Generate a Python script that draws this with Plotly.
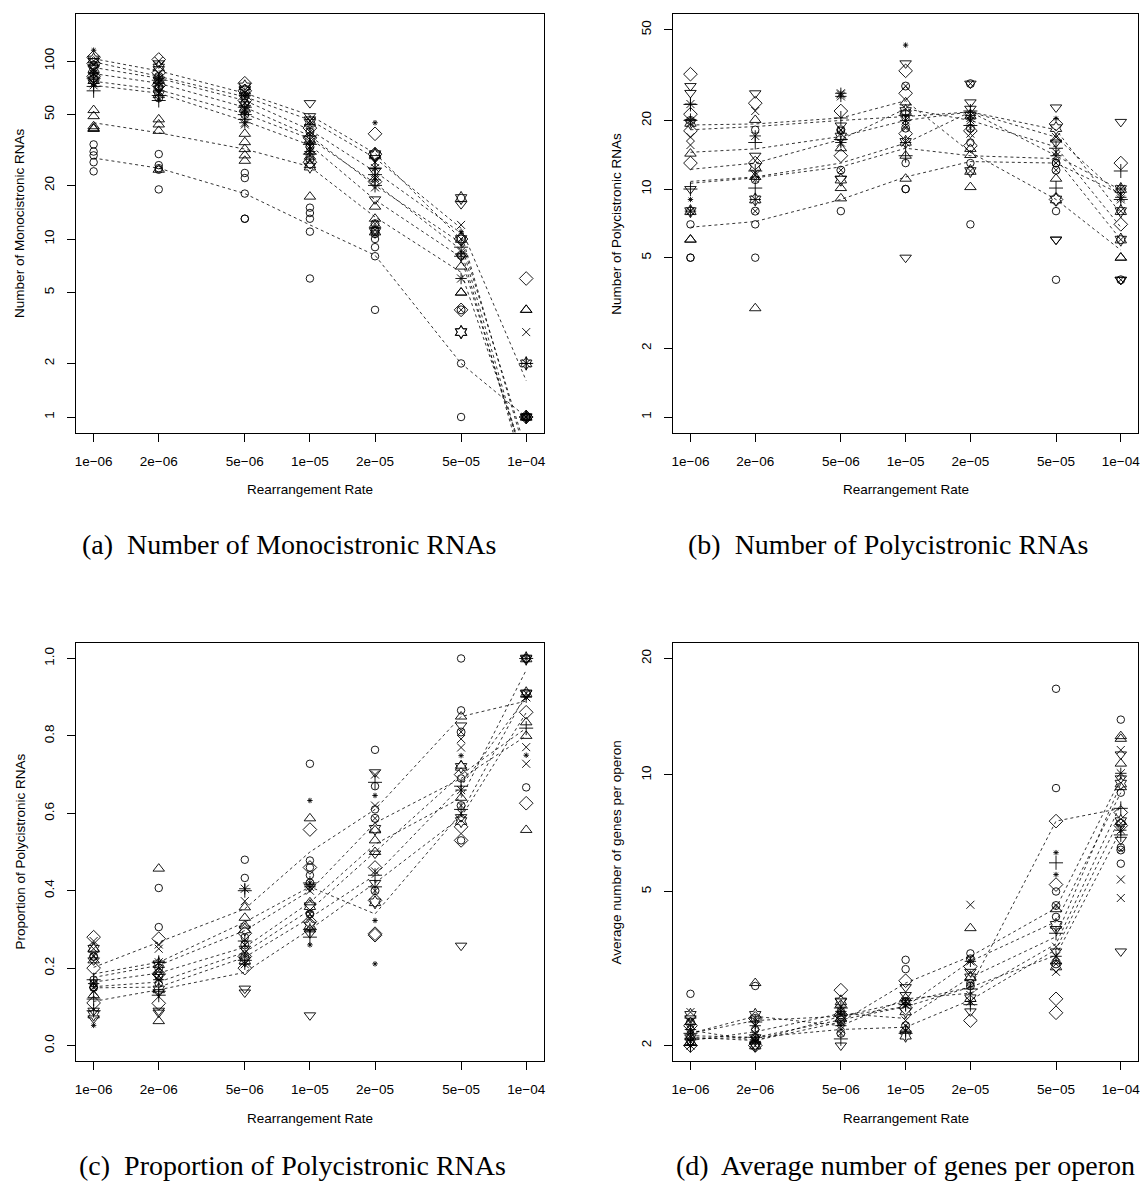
import plotly.graph_objects as go

# ---------------- data ----------------
RATES = [1e-6, 2e-6, 5e-6, 1e-5, 2e-5, 5e-5, 1e-4]
RATE_LABELS = ["1e\u221206", "2e\u221206", "5e\u221206", "1e\u221205", "2e\u221205", "5e\u221205", "1e\u221204"]

# (a) Number of monocistronic RNAs: per group, one list of replicate values per rate
mono_circle = [[34, 31, 29.5, 27, 24], [30, 26, 25, 24.5, 19], [23.5, 22, 18, 13, 13], [15, 14, 13, 11, 6], [11, 10, 9, 8, 4], [17, 2, 1], [1, 1]]
mono_triangle = [[53, 49, 43, 42, 41.5], [47, 44, 40.5, 24.5], [39, 35, 32, 29.5, 27.5], [17.3, 31, 29, 26], [15.2, 13, 12], [7, 5, 5], [4, 4, 1]]
mono_cross = [[68, 72, 80], [60, 64, 78], [50, 47, 55], [34, 30, 38], [20, 23, 25], [9, 8], [1, 2]]
mono_x = [[73, 88, 100], [100, 75, 66], [44, 52, 62], [46, 36, 32], [27, 22, 19.5], [12, 8.5], [3, 1]]
mono_diamond = [[97, 82, 105], [102, 73, 86], [75, 60, 68], [42, 27, 37], [39, 30, 21], [4, 10], [6, 1]]
mono_tridown = [[100, 92, 76], [90, 97, 70], [70, 62, 57], [58, 49, 47], [16.7, 28.5, 24], [15.7, 8], [1]]
mono_asterisk = [[75, 85], [68, 80, 76], [45, 53, 66], [35, 44, 31], [25, 21.5], [6], [2, 1]]
mono_small = [[115], [], [], [], [45], [11], []]
mono_circlex = [[85, 95, 80], [72, 62, 82], [58, 64, 50], [33, 28, 40], [12.2, 11.2, 10.7], [10, 8.1, 4], [1]]
mono_hexagram = [[102, 90, 78], [65, 78, 92], [68, 72, 54], [25.5, 36, 45], [30, 29.5, 11], [17, 3, 3, 10], [2, 1]]
mono_means = [
    [28.5, 25, 18, 12, 8.1, 2.0, 1.0],
    [45, 39.5, 32, 25.5, 13.3, 6.5, 0.55],
    [73, 66, 46, 33.7, 16.6, 7.9, 0.5],
    [77, 69, 50.5, 36.6, 20.6, 8.7, 0.45],
    [85, 75, 55, 38, 20, 9.5, 0.5],
    [92, 80, 60, 41, 23.9, 10.8, 0.6],
    [99, 82, 63, 46.6, 28.5, 11.5, 1.6],
    [103, 88, 66, 49.6, 30.3, 10.0, 0.65],
]

# (b) Number of polycistronic RNAs
poly_circle = [[7, 5, 5], [7, 5, 18.2], [8, 18], [13, 10, 10, 20.5], [13, 7, 16], [8, 4, 13], [10, 8]]
poly_triangle = [[14.3, 6, 6], [3, 20.1, 11.3], [15.1, 10.1, 9.1], [24, 11.1, 14], [14.1, 10.2, 15], [11.1, 16.5], [5, 5]]
poly_cross = [[23.5, 10, 20], [16, 10.1, 12], [16.5, 20.5], [14, 21], [22, 19], [15.1, 10.1], [12, 9]]
poly_x = [[16.9, 15.6, 19.5], [11.5, 22], [17.5, 26], [22.5, 19], [20, 17.5], [16.9, 14.5], [9, 8]]
poly_diamond = [[31.9, 21.3, 13, 18], [23.8, 13], [14, 22], [33, 26.3, 17.5], [18, 15.5], [9, 19.3], [13, 7]]
poly_tridown = [[28.3, 26.4, 10], [26.3, 14], [11.1, 19], [35.6, 5, 21.5], [29, 24, 22.5], [22.8, 6, 6, 16], [19.7, 4, 4]]
poly_asterisk = [[8, 23.6], [17.1, 9], [26.3, 25.5, 16], [16, 20], [21, 20.5], [14], [9.2, 10]]
poly_small = [[9], [], [], [42.8], [], [20.4], []]
poly_circlex = [[8, 20], [8, 11], [12.1, 18.2], [28.3, 18.5], [12, 18.5, 29], [12.1, 13], [6, 4]]
poly_hexagram = [[19.5, 8], [9, 12.5], [17, 11], [16.1, 22], [12, 21], [9, 18.5], [10, 8, 6]]
poly_means = [
    [19.1, 19.3, 20.5, 24.4, 14.5, 9.0, 5.4],
    [18.2, 18.8, 20, 20.8, 21.8, 18.2, 7.8],
    [14.5, 15, 17, 20, 21.8, 16.9, 9.3],
    [12.2, 13, 16.5, 22.5, 20, 15.3, 6.8],
    [10.8, 11.3, 13, 15.9, 21.8, 14, 9.9],
    [10.6, 11.2, 12.5, 15.1, 14, 13.6, 6.0],
    [6.8, 7.2, 9, 11.3, 13.2, 13.0, 9.5],
]

# (c) Proportion of polycistronic RNAs
prop_circle = [[0.17, 0.16, 0.23, 0.15], [0.407, 0.306, 0.16], [0.48, 0.433, 0.28], [0.728, 0.478, 0.46, 0.44], [0.764, 0.67, 0.61], [1.0, 0.866, 0.53, 0.69], [0.667, 1.0]]
prop_triangle = [[0.13, 0.25, 0.22], [0.457, 0.063, 0.19], [0.357, 0.33, 0.31], [0.587, 0.37, 0.3], [0.556, 0.53, 0.5], [0.85, 0.723, 0.64], [0.835, 0.557, 0.8]]
prop_cross = [[0.12, 0.17, 0.09], [0.14, 0.13, 0.215], [0.4, 0.27, 0.22], [0.3, 0.28, 0.42], [0.68, 0.44, 0.41], [0.67, 0.61], [0.82, 1.0]]
prop_x = [[0.14, 0.27, 0.25], [0.261, 0.25, 0.18], [0.373, 0.24, 0.26], [0.4, 0.35, 0.33], [0.7, 0.62, 0.45], [0.792, 0.77, 0.6], [0.771, 0.728, 0.9]]
prop_diamond = [[0.28, 0.2, 0.11], [0.276, 0.109, 0.185], [0.2, 0.23, 0.29], [0.558, 0.46, 0.32], [0.375, 0.289, 0.285, 0.46], [0.53, 0.565, 0.7], [0.861, 0.626]]
prop_tridown = [[0.09, 0.07, 0.22], [0.138, 0.09, 0.085], [0.147, 0.137, 0.25], [0.078, 0.41, 0.29], [0.706, 0.496, 0.42], [0.827, 0.258, 0.59], [0.91, 1.0]]
prop_asterisk = [[0.16], [0.17, 0.215], [0.405, 0.21], [0.41], [], [0.66], [0.9]]
prop_small = [[0.052], [], [], [0.633, 0.26], [0.646, 0.323, 0.211], [0.749], [0.75]]
prop_circlex = [[0.23, 0.15], [0.18, 0.2], [0.26, 0.23], [0.42, 0.34], [0.587, 0.4], [0.81, 0.62], [0.91, 1.0]]
prop_hexagram = [[0.25, 0.08], [0.21, 0.145], [0.3, 0.22], [0.36, 0.31], [0.56, 0.37], [0.72, 0.58], [1.0, 0.91]]
prop_means = [
    [0.202, 0.267, 0.353, 0.5, 0.61, 0.85, 0.89],
    [0.185, 0.215, 0.319, 0.41, 0.34, 0.6, 0.91],
    [0.176, 0.207, 0.297, 0.4, 0.575, 0.69, 0.8],
    [0.164, 0.187, 0.254, 0.37, 0.52, 0.64, 0.97],
    [0.152, 0.164, 0.241, 0.35, 0.5, 0.7, 0.82],
    [0.149, 0.151, 0.228, 0.33, 0.44, 0.67, 0.9],
    [0.114, 0.144, 0.189, 0.3, 0.42, 0.59, 0.86],
]

# (d) Average number of genes per operon
genes_circle = [[2.72, 2.2, 2.05], [2.85, 2.2, 2.0], [2.45, 2.3], [3.33, 3.15, 2.6], [3.46, 2.9], [16.7, 9.25, 5.0, 4.3], [13.9, 9.0, 5.9, 6.5]]
genes_triangle = [[2.1, 2.3], [2.9, 2.05], [2.55, 2.35], [2.65, 2.2], [4.02, 3.0], [4.5, 3.3], [12.6, 12.4, 10.7, 9.3]]
genes_cross = [[2.0, 2.15], [2.1, 2.3], [2.08, 2.5], [2.55, 2.15], [2.8, 2.55], [5.93, 3.9], [8.2, 7.0]]
genes_x = [[2.44, 2.05], [2.0, 2.15], [2.3, 2.2], [2.32, 2.6], [4.62, 2.7], [3.1, 3.6], [11.6, 5.37, 4.81]]
genes_diamond = [[2.25, 2.0], [2.35, 2.0], [2.78, 2.4], [2.94, 2.5], [2.32, 3.2], [7.6, 5.21, 2.64, 2.43], [8.0, 7.4]]
genes_tridown = [[2.35, 2.1], [2.1, 2.0], [2.0, 2.6], [2.83, 2.7], [2.45, 3.1], [4.0, 3.5], [11.3, 3.5, 6.8, 9.8]]
genes_asterisk = [[2.0, 2.2], [2.25, 2.05], [2.25, 2.45], [2.18, 2.55], [3.3, 2.6], [3.4], [10.1, 7.2]]
genes_small = [[], [], [], [], [], [6.3, 5.53], []]
genes_circlex = [[2.3, 2.1], [2.1, 2.35], [2.4, 2.15], [2.25, 2.6], [2.85, 3.35], [4.6, 3.25], [7.5, 6.4]]
genes_hexagram = [[2.05, 2.4], [2.4, 2.0], [2.6, 2.35], [2.12, 2.45], [2.65, 3.0], [3.2, 4.1], [7.6, 9.5]]
genes_means = [
    [2.15, 2.32, 2.38, 2.59, 2.83, 7.6, 8.2],
    [2.19, 2.06, 2.3, 2.9, 3.4, 4.53, 9.8],
    [2.08, 2.1, 2.33, 2.52, 3.3, 4.18, 9.0],
    [2.06, 2.17, 2.42, 2.35, 3.0, 3.82, 9.5],
    [2.15, 2.38, 2.25, 2.64, 2.73, 3.66, 8.4],
    [2.12, 2.1, 2.2, 2.23, 2.62, 3.54, 7.8],
    [2.1, 2.06, 2.38, 2.52, 2.83, 3.42, 7.2],
]

PANEL_TITLES = ["Number of Monocistronic RNAs", "Number of Polycistronic RNAs",
                "Proportion of Polycistronic RNAs", "Average number of genes per operon"]
CAPTIONS = ["(a)  Number of Monocistronic RNAs", "(b)  Number of Polycistronic RNAs",
            "(c)  Proportion of Polycistronic RNAs", "(d)  Average number of genes per operon"]
X_TITLE = "Rearrangement Rate"

# ---------------- styling / layout ----------------
W, H = 1144, 1188
SANS = "Liberation Sans, Arial, Helvetica, sans-serif"
SERIF = "Liberation Serif, Times New Roman, serif"
STYLE = {
    "circle": ("circle-open", 7.5),
    "triangle": ("triangle-up-open", 10),
    "cross": ("cross-thin-open", 10),
    "x": ("x-thin-open", 8),
    "diamond": ("diamond-open", 10.5),
    "tridown": ("triangle-down-open", 10),
    "asterisk": ("asterisk-open", 9.5),
    "small": ("asterisk-open", 4.5),
    "circlex": ("circle-x-open", 8),
    "hexagram": ("hexagram-open", 10),
}

panels = [
    dict(groups={"circle": mono_circle, "triangle": mono_triangle, "cross": mono_cross, "x": mono_x,
                 "diamond": mono_diamond, "tridown": mono_tridown, "asterisk": mono_asterisk,
                 "small": mono_small, "circlex": mono_circlex, "hexagram": mono_hexagram},
         means=mono_means, box=(74.6, 543.4, 14.2, 432.5), ytype="log",
         yrange=[-0.087, 2.263], yticks=[1, 2, 5, 10, 20, 50, 100],
         yticktext=["1", "2", "5", "10", "20", "50", "100"], cap=(288, 545)),
    dict(groups={"circle": poly_circle, "triangle": poly_triangle, "cross": poly_cross, "x": poly_x,
                 "diamond": poly_diamond, "tridown": poly_tridown, "asterisk": poly_asterisk,
                 "small": poly_small, "circlex": poly_circlex, "hexagram": poly_hexagram},
         means=poly_means, box=(673.6, 1140.0, 14.2, 432.5), ytype="log",
         yrange=[-0.068, 1.767], yticks=[1, 2, 5, 10, 20, 50],
         yticktext=["1", "2", "5", "10", "20", "50"], cap=(890, 545)),
    dict(groups={"circle": prop_circle, "triangle": prop_triangle, "cross": prop_cross, "x": prop_x,
                 "diamond": prop_diamond, "tridown": prop_tridown, "asterisk": prop_asterisk,
                 "small": prop_small, "circlex": prop_circlex, "hexagram": prop_hexagram},
         means=prop_means, box=(74.6, 543.4, 643.0, 1061.0), ytype="linear",
         yrange=[-0.04, 1.04], yticks=[0, 0.2, 0.4, 0.6, 0.8, 1.0],
         yticktext=["0.0", "0.2", "0.4", "0.6", "0.8", "1.0"], cap=(292, 1165)),
    dict(groups={"circle": genes_circle, "triangle": genes_triangle, "cross": genes_cross, "x": genes_x,
                 "diamond": genes_diamond, "tridown": genes_tridown, "asterisk": genes_asterisk,
                 "small": genes_small, "circlex": genes_circlex, "hexagram": genes_hexagram},
         means=genes_means, box=(673.6, 1140.0, 643.0, 1061.0), ytype="log",
         yrange=[0.261, 1.341], yticks=[2, 5, 10, 20],
         yticktext=["2", "5", "10", "20"], cap=(907, 1165)),
]

fig = go.Figure()
annotations = []
layout = {}

for i, p in enumerate(panels):
    n = "" if i == 0 else str(i + 1)
    xa, ya = "x" + n, "y" + n
    left, right, top, bottom = p["box"]

    # dashed lines connecting group summaries
    for m in p["means"]:
        fig.add_trace(go.Scatter(
            x=RATES, y=m, xaxis=xa, yaxis=ya, mode="lines", showlegend=False,
            line=dict(color="black", width=0.8, dash="3px,3px"), hoverinfo="skip"))

    # replicate points
    for g, vals in p["groups"].items():
        xs, ys = [], []
        for r, lst in zip(RATES, vals):
            for v in lst:
                xs.append(r)
                ys.append(v)
        sym, size = STYLE[g]
        fig.add_trace(go.Scatter(
            x=xs, y=ys, xaxis=xa, yaxis=ya, mode="markers", showlegend=False,
            marker=dict(symbol=sym, size=size, color="black",
                        line=dict(color="black", width=0.9))))

    axis_common = dict(showgrid=False, zeroline=False, showline=True, linecolor="black",
                       linewidth=1, mirror=True, ticks="outside", ticklen=8, tickwidth=1,
                       tickcolor="black", tickfont=dict(family=SANS, size=13.5, color="black"))
    layout["xaxis" + n] = dict(
        axis_common, type="log", range=[-6.08, -3.92], tickvals=RATES, ticktext=RATE_LABELS,
        domain=[left / W, right / W], anchor=ya, ticklabelstandoff=8)
    layout["yaxis" + n] = dict(
        axis_common, type=p["ytype"], range=p["yrange"], tickvals=p["yticks"],
        ticktext=p["yticktext"], tickangle=-90,
        domain=[1 - bottom / H, 1 - top / H], anchor=xa, ticklabelstandoff=8)

    # axis titles
    annotations.append(dict(text=X_TITLE, xref="paper", yref="paper",
                            x=(left + right) / 2 / W, y=1 - (bottom + 57) / H,
                            xanchor="center", yanchor="middle", showarrow=False,
                            font=dict(family=SANS, size=13.5, color="black")))
    annotations.append(dict(text=PANEL_TITLES[i], xref="paper", yref="paper",
                            x=(left - 57) / W, y=1 - (top + bottom) / 2 / H, textangle=-90,
                            xanchor="center", yanchor="middle", showarrow=False,
                            font=dict(family=SANS, size=13.5, color="black")))
    # caption
    cx, cy = p["cap"]
    annotations.append(dict(text=CAPTIONS[i], xref="paper", yref="paper",
                            x=cx / W, y=1 - cy / H, xanchor="center", yanchor="middle",
                            showarrow=False, font=dict(family=SERIF, size=28, color="black")))

fig.update_layout(
    width=W, height=H, margin=dict(l=0, r=0, t=0, b=0),
    paper_bgcolor="white", plot_bgcolor="white", showlegend=False,
    annotations=annotations, **layout)

fig.write_html("out.html")
